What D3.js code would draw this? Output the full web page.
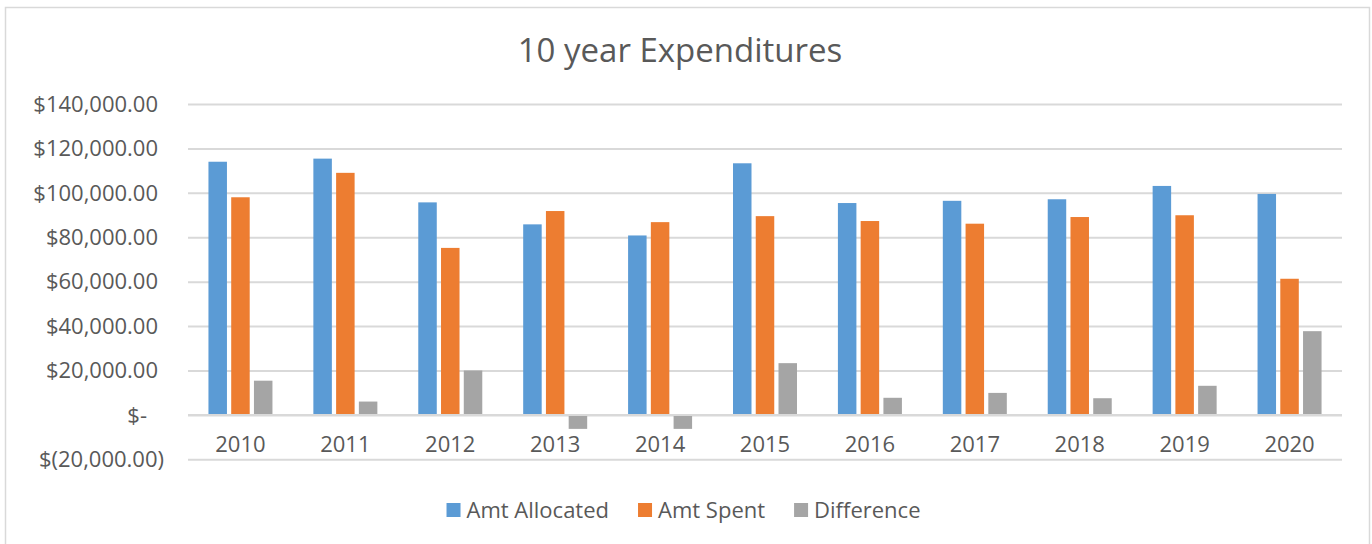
<!DOCTYPE html>
<html>
<head>
<meta charset="utf-8">
<script src="https://cdn.jsdelivr.net/npm/d3@7"></script>
<style>
  body { margin: 0; background: #fff; }
  text { font-family: "Open Sans", sans-serif; fill: #595959; }
</style>
</head>
<body>
<div id="chart"></div>
<script>
// values
const years = ["2010", "2011", "2012", "2013", "2014", "2015", "2016", "2017", "2018", "2019", "2020"];
const allocated = [114000, 115400, 95700, 85800, 80800, 113300, 95400, 96400, 97100, 103100, 99500];
const spent = [98000, 109000, 75200, 91800, 86800, 89500, 87300, 86100, 89100, 89900, 61300];
const difference = [15400, 6000, 20000, -6300, -6300, 23300, 7700, 9900, 7500, 13100, 37700];
const seriesNames = ["Amt Allocated", "Amt Spent", "Difference"];
const seriesColors = ["#5b9bd5", "#ed7d31", "#a5a5a5"];
const yTicks = [-20000, 0, 20000, 40000, 60000, 80000, 100000, 120000, 140000];

const W = 1372, H = 544;
const plot = { left: 188, right: 1342, top: 104, bottom: 459.3 };

const svg = d3.select("#chart")
  .append("svg")
    .attr("width", W)
    .attr("height", H);

// chart area border
svg.append("rect")
  .attr("x", 5.5)
  .attr("y", 7.5)
  .attr("width", 1364)
  .attr("height", 560)
  .attr("fill", "#fff")
  .attr("stroke", "#d9d9d9")
  .attr("stroke-width", 1.5);

const x = d3.scaleBand()
  .domain(years)
  .range([plot.left, plot.right]);

const groupW = 64;
const x1 = d3.scaleBand()
  .domain(seriesNames)
  .range([0, groupW])
  .paddingInner(0.187);

const y = d3.scaleLinear()
  .domain([-20000, 140000])
  .range([plot.bottom, plot.top]);

// gridlines
svg.append("g")
  .attr("transform", `translate(${plot.left},0)`)
  .call(d3.axisLeft(y).tickValues(yTicks).tickSize(-(plot.right - plot.left)).tickFormat(""))
  .call(g => g.select(".domain").remove())
  .call(g => g.selectAll("line").attr("stroke", "#d9d9d9").attr("stroke-width", 2));

// y labels, accounting style
const fmt = d3.format(",.2f");
const yLabel = v => v === 0 ? "$-" : v < 0 ? "$(" + fmt(-v) + ")" : "$" + fmt(v);
svg.append("g")
  .selectAll("text")
  .data(yTicks)
  .join("text")
    .attr("x", d => d === 0 ? 147 : d < 0 ? 164 : 158)
    .attr("y", d => y(d))
    .attr("dy", "0.35em")
    .attr("text-anchor", "end")
    .style("font-size", "22px")
    .text(yLabel);

// bars
const rows = years.map((yr, i) => ({ year: yr, values: [allocated[i], spent[i], difference[i]] }));
const groups = svg.append("g")
  .selectAll("g")
  .data(rows)
  .join("g")
    .attr("transform", d => `translate(${x(d.year) + (x.bandwidth() - groupW) / 2},0)`);

groups.selectAll("rect")
  .data(d => d.values.map((v, j) => ({ name: seriesNames[j], value: v, color: seriesColors[j] })))
  .join("rect")
    .attr("x", d => x1(d.name))
    .attr("width", x1.bandwidth())
    .attr("y", d => y(Math.max(0, d.value)))
    .attr("height", d => Math.abs(y(d.value) - y(0)))
    .attr("fill", d => d.color);

// zero line on top of bars
svg.append("line")
  .attr("x1", plot.left)
  .attr("x2", plot.right)
  .attr("y1", y(0))
  .attr("y2", y(0))
  .attr("stroke", "#d9d9d9")
  .attr("stroke-width", 2);

// category labels
svg.append("g")
  .selectAll("text")
  .data(years)
  .join("text")
    .attr("x", d => x(d) + x.bandwidth() / 2)
    .attr("y", 452)
    .attr("text-anchor", "middle")
    .style("font-size", "22px")
    .text(d => d);

// title
svg.append("text")
  .attr("x", 680)
  .attr("y", 62)
  .attr("text-anchor", "middle")
  .style("font-size", "33px")
  .text("10 year Expenditures");

// legend, laid out left to right then centred
const legend = svg.append("g");
let lx = 0;
seriesNames.forEach((name, i) => {
  legend.append("rect")
    .attr("x", lx)
    .attr("y", 503)
    .attr("width", 14)
    .attr("height", 14)
    .attr("fill", seriesColors[i]);
  const t = legend.append("text")
    .attr("x", lx + 20)
    .attr("y", 518)
    .style("font-size", "22px")
    .text(name);
  lx += 20 + t.node().getComputedTextLength() + 29;
});
const legendW = lx - 29;
legend.attr("transform", `translate(${683.5 - legendW / 2},0)`);
</script>
</body>
</html>
